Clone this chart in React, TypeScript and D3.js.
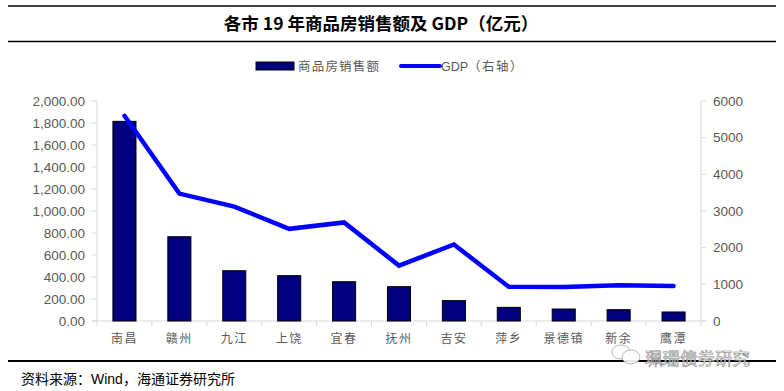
import * as d3 from "d3";

const cities = ["南昌", "赣州", "九江", "上饶", "宜春", "抚州", "吉安", "萍乡", "景德镇", "新余", "鹰潭"];
const sales = [1815, 766, 457, 412, 357, 312, 185, 124, 109, 103, 82];
const gdp = [5596, 3474, 3121, 2513, 2688, 1511, 2086, 932, 926, 972, 955];
const leftTicks = [0, 200, 400, 600, 800, 1000, 1200, 1400, 1600, 1800, 2000];
const rightTicks = [0, 1000, 2000, 3000, 4000, 5000, 6000];

const W = 784;
const H = 391;
const left = 97;
const right = 701;
const top = 101;
const bottom = 321;

const axisColor = "#d9d9d9";
const labelColor = "#595959";
const cjk = "'Noto Sans CJK SC', sans-serif";
const latin = "'Liberation Sans', Arial, sans-serif";

export default function App() {
  const x = d3.scaleBand<string>().domain(cities).range([left, right]).padding(0);
  const yL = d3.scaleLinear().domain([0, 2000]).range([bottom, top]);
  const yR = d3.scaleLinear().domain([0, 6000]).range([bottom, top]);
  const fmt = d3.format(",.2f");

  const barW = x.bandwidth() * 0.42;
  const cx = (c: string) => (x(c) ?? 0) + x.bandwidth() / 2;

  const line = d3
    .line<number>()
    .x((_, i) => cx(cities[i]))
    .y((d) => yR(d));

  return (
    <svg
      width={W}
      height={H}
      style={{ position: "absolute", left: 0, top: 0, background: "#fff" }}
    >
      {/* title block */}
      <line x1={8} x2={776} y1={6} y2={6} stroke="#000" strokeWidth={1.5} />
      <text
        x={381}
        y={30}
        textAnchor="middle"
        fontSize={17.5}
        fontWeight="bold"
        fontFamily={cjk}
      >
        各市 19 年商品房销售额及 GDP（亿元）
      </text>
      <line x1={8} x2={776} y1={41.5} y2={41.5} stroke="#000" strokeWidth={1.5} />

      {/* legend */}
      <rect x={256} y={62} width={38} height={8} fill="#000080" stroke="#000" strokeWidth={1} />
      <text x={298} y={70.5} fontSize={12.5} fill={labelColor} fontFamily={cjk} letterSpacing={1.2}>
        商品房销售额
      </text>
      <line x1={401} x2={440} y1={66} y2={66} stroke="#0000ff" strokeWidth={4} strokeLinecap="round" />
      <text x={441} y={70.5} fontSize={12.5} fill={labelColor} fontFamily={latin}>
        GDP
        <tspan fontFamily={cjk} letterSpacing={1.5}>（右轴）</tspan>
      </text>

      {/* axes */}
      <line x1={left} x2={left} y1={top} y2={bottom} stroke={axisColor} />
      <line x1={right} x2={right} y1={top} y2={bottom} stroke={axisColor} />
      <line x1={left - 5} x2={right + 5} y1={bottom} y2={bottom} stroke={axisColor} />
      {leftTicks.map((t) => (
        <g key={"l" + t}>
          <line x1={left - 5} x2={left} y1={yL(t)} y2={yL(t)} stroke={axisColor} />
          <text
            x={85}
            y={yL(t)}
            dy="0.35em"
            textAnchor="end"
            fontSize={13.5}
            fill={labelColor}
            fontFamily={latin}
          >
            {fmt(t)}
          </text>
        </g>
      ))}
      {rightTicks.map((t) => (
        <g key={"r" + t}>
          <line x1={right} x2={right + 5} y1={yR(t)} y2={yR(t)} stroke={axisColor} />
          <text x={713} y={yR(t)} dy="0.35em" fontSize={13.5} fill={labelColor} fontFamily={latin}>
            {t}
          </text>
        </g>
      ))}
      {cities.map((c) => (
        <line
          key={"t" + c}
          x1={x(c) ?? 0}
          x2={x(c) ?? 0}
          y1={bottom}
          y2={bottom + 5}
          stroke={axisColor}
        />
      ))}
      <line x1={right} x2={right} y1={bottom} y2={bottom + 5} stroke={axisColor} />

      {/* bars */}
      {cities.map((c, i) => (
        <rect
          key={"b" + c}
          x={cx(c) - barW / 2}
          y={yL(sales[i])}
          width={barW}
          height={bottom - yL(sales[i])}
          fill="#000080"
          stroke="#000"
          strokeWidth={1}
        />
      ))}

      {/* GDP line */}
      <path
        d={line(gdp) ?? ""}
        fill="none"
        stroke="#0000ff"
        strokeWidth={4.5}
        strokeLinejoin="miter"
        strokeLinecap="round"
      />

      {/* category labels */}
      {cities.map((c) => (
        <text
          key={"x" + c}
          x={cx(c)}
          y={343}
          textAnchor="middle"
          fontSize={12}
          fill={labelColor}
          fontFamily={cjk}
          letterSpacing={1.5}
        >
          {c}
        </text>
      ))}

      {/* footer */}
      <line x1={8} x2={776} y1={361} y2={361} stroke="#000" strokeWidth={2} />
      <g opacity={0.9}>
        <ellipse cx={621} cy={352} rx={9} ry={7} fill="#fff" stroke="#999" strokeWidth={0.8} />
        <ellipse cx={631} cy={357} rx={9} ry={7} fill="#fff" stroke="#999" strokeWidth={0.8} />
        <text
          x={645}
          y={365}
          fontSize={17.5}
          fill="#fff"
          stroke="#777"
          strokeWidth={0.6}
          fontFamily={cjk}
        >
          珮珊债券研究
        </text>
      </g>
      <text x={21} y={384} fontSize={14} fill="#000" fontFamily={cjk}>
        资料来源：
        <tspan fontFamily={latin}>Wind</tspan>
        ，海通证券研究所
      </text>
    </svg>
  );
}
